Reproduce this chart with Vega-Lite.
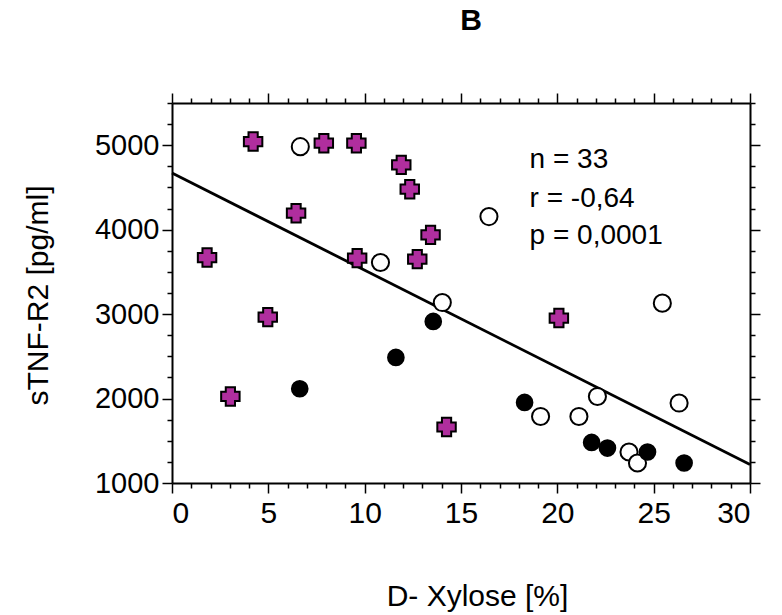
{
  "$schema": "https://vega.github.io/schema/vega-lite/v6.json",
  "autosize": "none",
  "width": 578,
  "height": 380,
  "padding": {"left": 172, "top": 103, "right": 32, "bottom": 132},
  "background": "white",
  "config": {
    "view": {"stroke": null},
    "font": "Liberation Sans",
    "axis": {"grid": false, "domainColor": "black", "domainWidth": 2, "tickColor": "black", "tickWidth": 1.5, "labelColor": "black", "titleColor": "black", "labelFont": "Liberation Sans", "titleFont": "Liberation Sans", "titleFontWeight": "normal"}
  },
  "title": {"text": "B", "fontSize": 30, "fontWeight": "bold", "font": "Liberation Sans", "color": "black", "anchor": "middle", "dx": 10, "offset": 56},
  "datasets": {
    "pts": [
      {"x": 4.21, "y": 5043, "g": "cross"},
      {"x": 7.88, "y": 5024, "g": "cross"},
      {"x": 9.57, "y": 5024, "g": "cross"},
      {"x": 11.90, "y": 4767, "g": "cross"},
      {"x": 12.34, "y": 4479, "g": "cross"},
      {"x": 6.44, "y": 4195, "g": "cross"},
      {"x": 13.42, "y": 3938, "g": "cross"},
      {"x": 1.82, "y": 3670, "g": "cross"},
      {"x": 9.61, "y": 3663, "g": "cross"},
      {"x": 12.73, "y": 3651, "g": "cross"},
      {"x": 4.97, "y": 2964, "g": "cross"},
      {"x": 3.03, "y": 2025, "g": "cross"},
      {"x": 14.25, "y": 1663, "g": "cross"},
      {"x": 20.08, "y": 2953, "g": "cross"},
      {"x": 6.66, "y": 4983, "g": "open"},
      {"x": 10.82, "y": 3611, "g": "open"},
      {"x": 14.03, "y": 3137, "g": "open"},
      {"x": 16.45, "y": 4155, "g": "open"},
      {"x": 25.45, "y": 3130, "g": "open"},
      {"x": 19.13, "y": 1788, "g": "open"},
      {"x": 21.12, "y": 1788, "g": "open"},
      {"x": 22.08, "y": 2025, "g": "open"},
      {"x": 26.32, "y": 1947, "g": "open"},
      {"x": 23.72, "y": 1367, "g": "open"},
      {"x": 24.16, "y": 1237, "g": "open"},
      {"x": 13.56, "y": 2913, "g": "filled"},
      {"x": 11.62, "y": 2487, "g": "filled"},
      {"x": 6.63, "y": 2116, "g": "filled"},
      {"x": 18.30, "y": 1954, "g": "filled"},
      {"x": 21.78, "y": 1480, "g": "filled"},
      {"x": 22.60, "y": 1414, "g": "filled"},
      {"x": 24.68, "y": 1367, "g": "filled"},
      {"x": 26.58, "y": 1237, "g": "filled"}
    ],
    "fit": [
      {"x": 0, "y": 4670},
      {"x": 30, "y": 1220}
    ],
    "notes": [
      {"x": 18.56, "y": 4731, "t": "n = 33"},
      {"x": 18.56, "y": 4273, "t": "r = -0,64"},
      {"x": 18.56, "y": 3832, "t": "p = 0,0001"}
    ]
  },
  "resolve": {"axis": {"x": "independent", "y": "independent"}},
  "layer": [
    {
      "data": {"name": "fit"},
      "mark": {"type": "line", "color": "black", "strokeWidth": 2.8},
      "encoding": {
        "x": {"field": "x", "type": "quantitative", "scale": {"domain": [0, 30], "nice": false, "zero": false},
          "axis": {"orient": "top", "labels": false, "title": null, "values": [0,1,2,3,4,5,6,7,8,9,10,11,12,13,14,15,16,17,18,19,20,21,22,23,24,25,26,27,28,29,30],
            "tickSize": {"condition": {"test": "datum.value % 5 === 0", "value": 10}, "value": 5}}},
        "y": {"field": "y", "type": "quantitative", "scale": {"domain": [1000, 5500], "nice": false, "zero": false},
          "axis": {"orient": "right", "labels": false, "title": null, "values": [1000,1250,1500,1750,2000,2250,2500,2750,3000,3250,3500,3750,4000,4250,4500,4750,5000,5250,5500],
            "tickSize": {"condition": {"test": "datum.value % 1000 === 0", "value": 10}, "value": 5}}}
      }
    },
    {
      "data": {"name": "pts"},
      "mark": {"type": "point", "filled": true, "stroke": "black", "strokeWidth": 2, "opacity": 1},
      "encoding": {
        "x": {"field": "x", "type": "quantitative",
          "axis": {"orient": "bottom", "title": "D- Xylose [%]", "titleFontSize": 30, "titleX": 305, "titleY": 122, "titleBaseline": "alphabetic", "titleAnchor": null,
            "values": [0,1,2,3,4,5,6,7,8,9,10,11,12,13,14,15,16,17,18,19,20,21,22,23,24,25,26,27,28,29,30],
            "labelExpr": "datum.value % 5 === 0 ? '' + datum.value : ''", "labelFontSize": 30, "labelPadding": 5,
            "tickSize": {"condition": {"test": "datum.value % 5 === 0", "value": 10}, "value": 5}}},
        "y": {"field": "y", "type": "quantitative",
          "axis": {"orient": "left", "title": "sTNF-R2 [pg/ml]", "titleFontSize": 30, "titleAngle": 270, "titleX": -134, "titleY": 192, "titleBaseline": "middle", "titleAlign": "center", "titleAnchor": null,
            "values": [1000,1250,1500,1750,2000,2250,2500,2750,3000,3250,3500,3750,4000,4250,4500,4750,5000,5250,5500],
            "labelExpr": "datum.value % 1000 === 0 ? '' + datum.value : ''", "labelFontSize": 29, "labelPadding": 3,
            "tickSize": {"condition": {"test": "datum.value % 1000 === 0", "value": 10}, "value": 5}}},
        "shape": {"field": "g", "type": "nominal", "legend": null,
          "scale": {"domain": ["cross", "open", "filled"], "range": ["M-0.5,-1L0.5,-1L0.5,-0.5L1,-0.5L1,0.5L0.5,0.5L0.5,1L-0.5,1L-0.5,0.5L-1,0.5L-1,-0.5L-0.5,-0.5Z", "circle", "circle"]}},
        "fill": {"field": "g", "type": "nominal", "legend": null,
          "scale": {"domain": ["cross", "open", "filled"], "range": ["#b02e9e", "white", "black"]}},
        "size": {"field": "g", "type": "nominal", "legend": null,
          "scale": {"domain": ["cross", "open", "filled"], "range": [340, 246, 300]}}
      }
    },
    {
      "data": {"name": "notes"},
      "mark": {"type": "text", "align": "left", "baseline": "alphabetic", "fontSize": 28, "font": "Liberation Sans", "color": "black"},
      "encoding": {
        "x": {"field": "x", "type": "quantitative", "axis": null},
        "y": {"field": "y", "type": "quantitative", "axis": null},
        "text": {"field": "t"}
      }
    }
  ]
}
